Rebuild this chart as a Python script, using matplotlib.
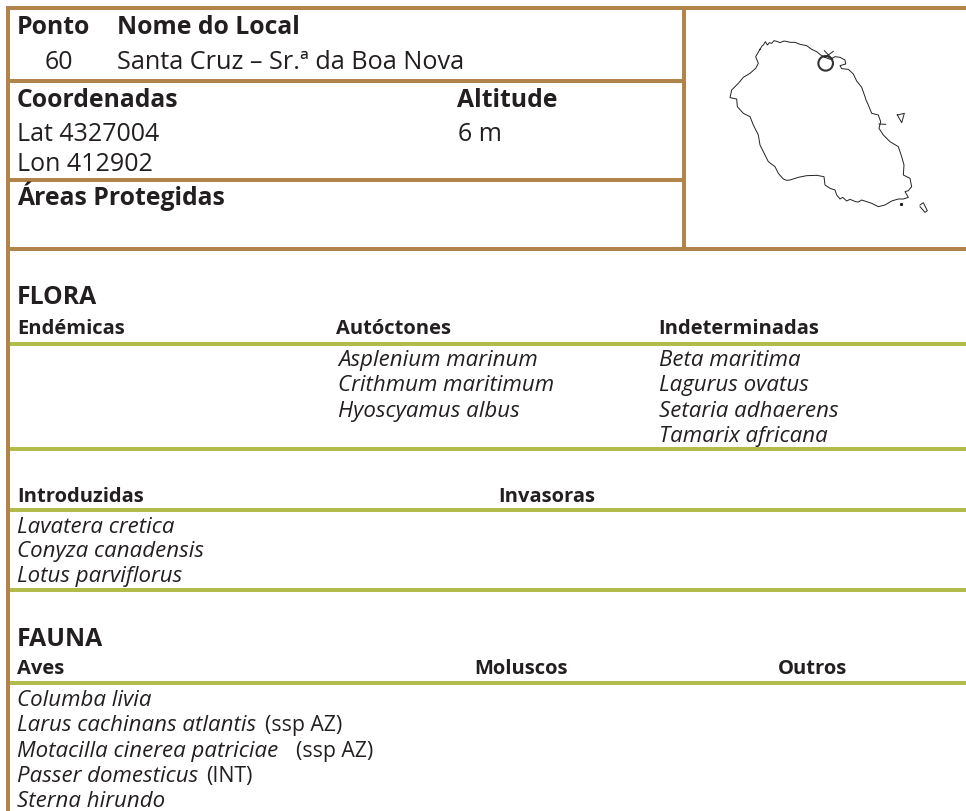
import matplotlib
matplotlib.use('Agg')
import matplotlib.pyplot as plt
from matplotlib.patches import Circle

BROWN = '#B0844A'
GREEN = '#B1BC4B'
INK = '#231F20'
FONT = 'Open Sans'

ponto = '60'
local = 'Santa Cruz – Sr.ª da Boa Nova'
lat = 'Lat 4327004'
lon = 'Lon 412902'
altitude = '6 m'

autoctones = ['Asplenium marinum', 'Crithmum maritimum', 'Hyoscyamus albus']
indeterminadas = ['Beta maritima', 'Lagurus ovatus', 'Setaria adhaerens', 'Tamarix africana']
introduzidas = ['Lavatera cretica', 'Conyza canadensis', 'Lotus parviflorus']
aves = ['Columba livia', 'Larus cachinans atlantis', 'Motacilla cinerea patriciae',
        'Passer domesticus', 'Sterna hirundo']
aves_notes = ['', '(ssp AZ)', '(ssp AZ)', '(INT)', '']
aves_note_x = [0, 265, 296, 206, 0]

# island outline (3x crop coordinates)
coast_x = [210, 216, 220, 226, 232, 238, 245, 252, 260, 270, 282, 292, 300, 315, 330, 350, 365, 380, 392,
           405, 420, 435, 450, 465, 467, 450, 455, 475, 490, 500, 515, 525, 528, 535, 545, 565, 572, 567,
           580, 600, 625, 635, 642, 640, 660, 665, 655, 645, 655, 640, 625, 605, 585, 565, 545, 530, 515,
           505, 497, 480, 470, 458, 450, 440, 435, 420, 405, 402, 380, 350, 325, 300, 290, 280, 265, 255,
           235, 225, 210, 205, 190, 180, 160, 142, 140, 120, 125, 145, 160, 180, 197, 205, 197, 210]
coast_y = [148, 138, 135, 125, 135, 128, 130, 122, 124, 128, 123, 125, 127, 127, 133, 137, 148, 155, 165,
           172, 178, 170, 172, 180, 192, 197, 206, 208, 222, 243, 262, 290, 300, 315, 340, 345, 365, 385,
           405, 425, 440, 470, 495, 525, 535, 560, 572, 575, 592, 597, 597, 603, 615, 620, 610, 605, 600,
           606, 605, 598, 603, 592, 597, 585, 570, 565, 555, 530, 526, 527, 532, 540, 541, 537, 520, 500,
           485, 465, 435, 405, 375, 350, 340, 320, 297, 293, 270, 250, 232, 220, 205, 190, 170, 148]
islet_a_x = [622, 643, 635, 622]
islet_a_y = [345, 340, 368, 345]
islet_b_x = [690, 700, 712, 705, 690]
islet_b_y = [615, 608, 632, 637, 620]
spur_x = [567, 587]
spur_y = [372, 373]
cross_a_x = [403, 428]
cross_a_y = [152, 178]
cross_b_x = [430, 405]
cross_b_y = [154, 172]
site_x, site_y = 407, 190
rock_x, rock_y = 632, 613


def mx(vals):
    return [690 + v / 3 for v in vals]


def my(vals):
    return [v / 3 for v in vals]


fig = plt.figure(figsize=(9.66, 8.11), dpi=100)
ax = fig.add_axes([0, 0, 1, 1])
ax.set_xlim(0, 966)
ax.set_ylim(811, 0)
ax.axis('off')


def hline(y, x0, x1, color):
    ax.fill_between([x0, x1], y, y + 4, color=color, lw=0)


def label(x, y, s, size=18, weight='normal', style='normal'):
    ax.text(x, y + 1, s, fontsize=size, fontweight=weight, fontstyle=style,
            color=INK, family=FONT, va='baseline', ha='left')


# frame
ax.fill_between([6, 10], 6, 811, color=BROWN, lw=0)
ax.fill_between([682, 686], 6, 251, color=BROWN, lw=0)
hline(6, 6, 966, BROWN)
hline(79, 10, 686, BROWN)
hline(178, 10, 686, BROWN)
hline(247, 6, 966, BROWN)
for y in [342, 447, 508, 588, 681]:
    hline(y, 10, 966, GREEN)

# header block
label(17, 33, 'Ponto', 17.8, 'bold')
label(117, 33, 'Nome do Local', 17.8, 'bold')
label(45, 68, ponto)
label(117, 68, local, 18.2)
label(17, 106, 'Coordenadas', 17.8, 'bold')
label(457, 106, 'Altitude', 17.8, 'bold')
label(17, 140, lat)
label(17, 170, lon)
label(458, 140, altitude)
label(17, 204, 'Áreas Protegidas', 17.8, 'bold')

# flora
label(17, 303, 'FLORA', 17.8, 'bold')
label(17, 333, 'Endémicas', 14.5, 'bold')
label(336, 333, 'Autóctones', 14.5, 'bold')
label(658, 333, 'Indeterminadas', 14.5, 'bold')
for name, y in zip(autoctones, [365, 390, 416]):
    label(338, y, name, 16, style='italic')
for name, y in zip(indeterminadas, [365, 390, 416, 441]):
    label(659, y, name, 16, style='italic')
label(17, 501, 'Introduzidas', 14.5, 'bold')
label(498, 501, 'Invasoras', 14.5, 'bold')
for name, y in zip(introduzidas, [532, 556, 581]):
    label(17, y, name, 16, style='italic')

# fauna
label(17, 645, 'FAUNA', 17.8, 'bold')
label(17, 673, 'Aves', 14.5, 'bold')
label(474, 673, 'Moluscos', 14.5, 'bold')
label(778, 673, 'Outros', 14.5, 'bold')
for name, note, nx, y in zip(aves, aves_notes, aves_note_x, [705, 730, 756, 781, 806]):
    label(17, y, name, 16, style='italic')
    if note:
        label(nx, y, note, 15.3)

# map
for xs, ys in [(coast_x, coast_y), (islet_a_x, islet_a_y), (islet_b_x, islet_b_y),
               (spur_x, spur_y), (cross_a_x, cross_a_y), (cross_b_x, cross_b_y)]:
    ax.plot(mx(xs), my(ys), color='#222222', lw=0.7, solid_joinstyle='round')
ax.plot(mx([rock_x]), my([rock_y]), 's', color='#222222', ms=1.2)
ax.add_patch(Circle((690 + site_x / 3, site_y / 3), 7.3, fill=False, ec='#333333', lw=1.5))

fig.savefig('out.png', dpi=100)
